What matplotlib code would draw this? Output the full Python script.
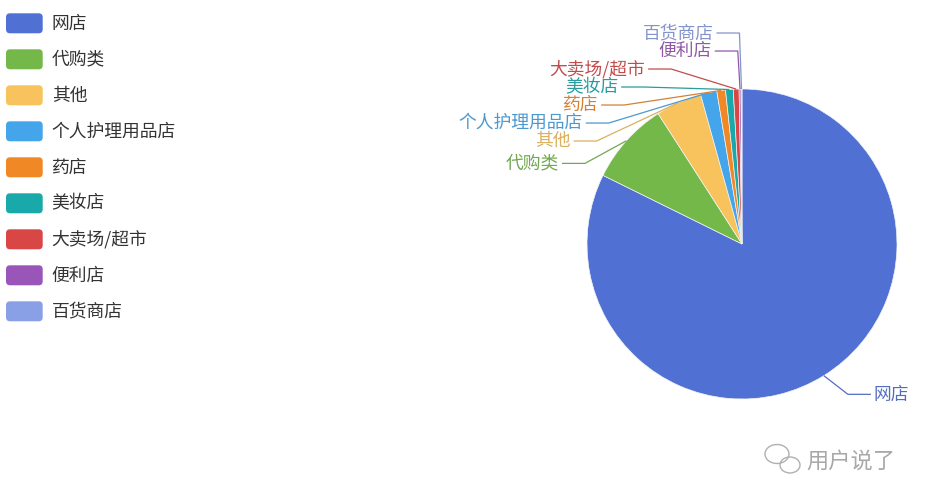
import numpy as np
import matplotlib.pyplot as plt
from matplotlib.patches import FancyBboxPatch, Ellipse
from matplotlib.colors import to_rgb

plt.rcParams['font.family'] = ['Noto Sans CJK SC', 'DejaVu Sans']

channels = ['网店', '代购类', '其他', '个人护理用品店', '药店', '美妆店',
            '大卖场/超市', '便利店', '百货商店']
shares = [82.3, 8.6, 4.8, 1.7, 0.9, 0.8, 0.6, 0.2, 0.1]
colors = ['#5070d4', '#74b84a', '#f8c35c', '#45a5ea', '#f08826', '#1aa9ab',
          '#d94646', '#9a55b8', '#8aa0e6']

W, H = 928, 501
CX, CY = 742, 244      # pie centre, pixels from top-left
R = 155                # pie radius in pixels
LEN1, LEN2 = 22, 23    # label line segments
LABEL_H = 18           # label height used for overlap avoidance
FS = 12.8


def tint(c, k=0.8):
    # label text/lines are a bit greyer than the slices
    r, g, b = to_rgb(c)
    grey = 0.4
    return (r * k + grey * (1 - k), g * k + grey * (1 - k), b * k + grey * (1 - k))


fig = plt.figure(figsize=(W / 100, H / 100), dpi=100)
ax = fig.add_axes([0, 0, 1, 1])
wedges, _ = ax.pie(shares, colors=colors, radius=R, startangle=90,
                   counterclock=False,
                   wedgeprops=dict(linewidth=0.5, edgecolor='#f4f4f4'))
ax.set_xlim(-CX, W - CX)
ax.set_ylim(-(H - CY), CY)
ax.set_aspect('auto')
ax.axis('off')

# ---- label layout (y measured downwards, relative to the centre) ----
items = []
for i, w in enumerate(wedges):
    mid = np.deg2rad((w.theta1 + w.theta2) / 2)
    dx, dy = np.cos(mid), -np.sin(mid)
    side = -1 if dx < 0 else 1
    x2, y2 = (R + LEN1) * dx, (R + LEN1) * dy
    items.append(dict(i=i, side=side, x1=R * dx, y1=R * dy,
                      y=y2, x=x2 + side * LEN2 + side * 5))

top, bottom = -CY, H - CY


def adjust_side(lst, side):
    lst.sort(key=lambda d: d['y'])
    n = len(lst)

    def shift_up(end, delta):
        for j in range(end, -1, -1):
            if lst[j]['y'] - delta < top:
                break
            lst[j]['y'] -= delta
            if j > 0 and lst[j]['y'] > lst[j - 1]['y'] + LABEL_H:
                break

    def shift_down(start, end, delta):
        for j in range(start, end):
            if lst[j]['y'] + delta > bottom:
                break
            lst[j]['y'] += delta
            if j > start and j + 1 < end and lst[j + 1]['y'] > lst[j]['y'] + LABEL_H:
                shift_up(j, delta / 2)
                return
        shift_up(end - 1, delta / 2)

    last_y = top
    for i in range(n):
        delta = lst[i]['y'] - last_y
        if delta < 0:
            shift_down(i, n, -delta)
        last_y = lst[i]['y'] + LABEL_H

    D = R + LEN1 + LEN2

    def change_x(sub, is_down):
        last = 1e9 if is_down else 0
        for d in sub:
            ady = abs(d['y'])
            if ady < R + LEN1:
                ddx = np.sqrt(D * D - ady * ady)
            else:
                ddx = abs(d['x'])
            if is_down and ddx >= last:
                ddx = last - 10
            if not is_down and ddx <= last:
                ddx = last + 10
            d['x'] = side * ddx
            last = ddx

    change_x([d for d in lst if d['y'] < 0], False)
    change_x([d for d in lst if d['y'] >= 0], True)


adjust_side([d for d in items if d['side'] < 0], -1)
adjust_side([d for d in items if d['side'] > 0], 1)

for d in items:
    c = tint(colors[d['i']])
    side = d['side']
    p2x = d['x'] - side * 3
    elbow = p2x - side * LEN2
    ax.plot([d['x1'], elbow, p2x], [-d['y1'], -d['y'], -d['y']],
            color=c, lw=0.9, clip_on=False, solid_capstyle='butt')
    ax.text(d['x'], -d['y'], channels[d['i']], color=c, fontsize=FS,
            ha='right' if side < 0 else 'left', va='center')

# ---- legend ----
for i, (name, col) in enumerate(zip(channels, colors)):
    yc = 23.3 + i * 36
    box = FancyBboxPatch((6 - CX, CY - yc - 10), 36.7, 20,
                         boxstyle='round,pad=0,rounding_size=4',
                         facecolor=col, edgecolor='none', clip_on=False)
    ax.add_patch(box)
    ax.text(51.7 - CX, CY - yc, name, color='#333333', fontsize=FS,
            ha='left', va='center')

# ---- watermark ----
ax.add_patch(Ellipse((777 - CX, CY - 454), 24, 19, fill=False,
                     edgecolor='#b0b0b0', lw=1.0))
ax.add_patch(Ellipse((790 - CX, CY - 465), 20, 16, fill=False,
                     edgecolor='#b0b0b0', lw=1.0, facecolor='white'))
ax.text(806 - CX, CY - 461, '用户说了', color='#a8a8a8', fontsize=16,
        ha='left', va='center')

fig.savefig('out.png', dpi=100, facecolor='white')
